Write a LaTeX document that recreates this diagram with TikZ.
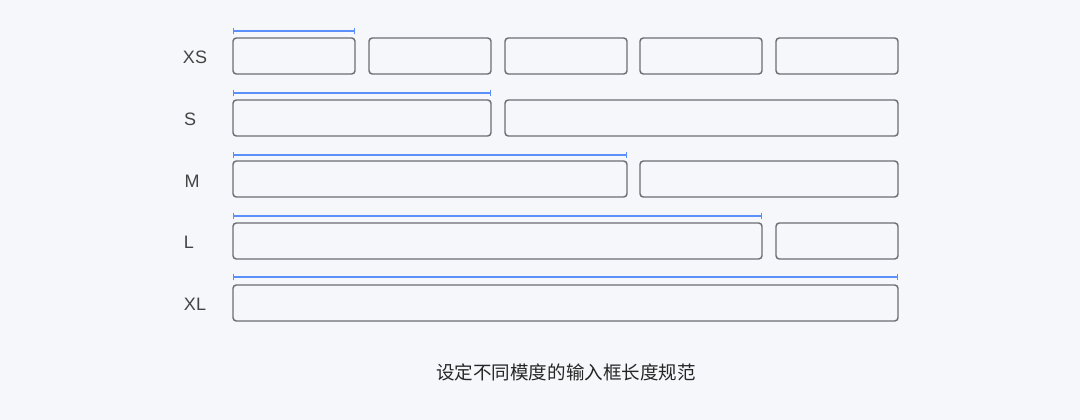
\documentclass[tikz,border=0pt]{standalone}
\usepackage{fontspec}
\setmainfont{Liberation Sans}
\newfontfamily\cjk{Noto Sans CJK SC}
\usetikzlibrary{arrows.meta}
\definecolor{bg}{HTML}{F6F7FB}
\definecolor{bd}{HTML}{6B6E75}
\definecolor{bl}{HTML}{5B8FF9}
\definecolor{tx}{HTML}{444444}
\tikzset{fieldbox/.style={draw=bd,line width=1.1pt,rounded corners=2.5pt,fill=bg},
  span/.style={draw=bl,line width=1pt,{Bar[width=5pt,line width=1pt]}-{Bar[width=5pt,line width=1pt]}},
  rowlab/.style={text=tx,font=\fontsize{13.5}{15}\selectfont,anchor=center}}
\begin{document}
\begin{tikzpicture}[x=0.75pt,y=-0.75pt]
\useasboundingbox[fill=bg] (0,0) rectangle (1080,420);
% XS
\node[rowlab] (lxs) at (195,57) {XS};
\draw[fieldbox] (233,38) rectangle (355,74);
\draw[fieldbox] (369,38) rectangle (491,74);
\draw[fieldbox] (505,38) rectangle (627,74);
\draw[fieldbox] (640,38) rectangle (762,74);
\draw[fieldbox] (776,38) rectangle (898,74);
\coordinate (a1) at (233,31); \coordinate (b1) at (355,31);
\draw[span] (a1) -- (b1);
% S
\node[rowlab] (ls) at (190,119) {S};
\draw[fieldbox] (233,100) rectangle (491,136);
\draw[fieldbox] (505,100) rectangle (898,136);
\coordinate (a2) at (233,93); \coordinate (b2) at (491,93);
\draw[span] (a2) -- (b2);
% M
\node[rowlab] (lm) at (192,181) {M};
\draw[fieldbox] (233,161) rectangle (627,197);
\draw[fieldbox] (640,161) rectangle (898,197);
\coordinate (a3) at (233,155); \coordinate (b3) at (627,155);
\draw[span] (a3) -- (b3);
% L
\node[rowlab] (ll) at (189,242) {L};
\draw[fieldbox] (233,223) rectangle (762,259);
\draw[fieldbox] (776,223) rectangle (898,259);
\coordinate (a4) at (233,216); \coordinate (b4) at (762,216);
\draw[span] (a4) -- (b4);
% XL
\node[rowlab] (lxl) at (195,304) {XL};
\draw[fieldbox] (233,285) rectangle (898,321);
\coordinate (a5) at (233,277); \coordinate (b5) at (898,277);
\draw[span] (a5) -- (b5);
\node[text=black!85,font=\cjk\fontsize{13.9}{15}\selectfont] (cap) at (566,372) {设定不同模度的输入框长度规范};
\end{tikzpicture}
\end{document}
